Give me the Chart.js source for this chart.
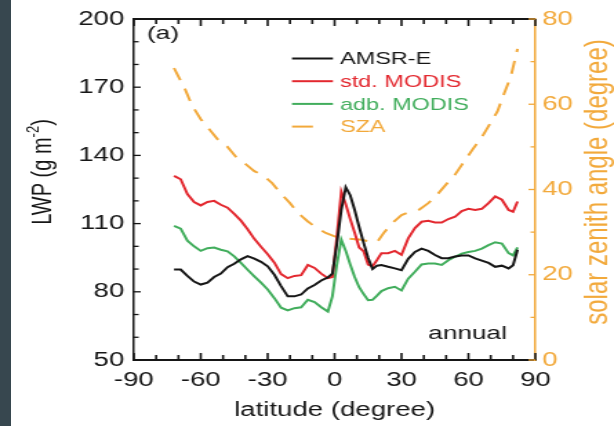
<!DOCTYPE html>
<html>
<head>
<meta charset="utf-8">
<script src="https://cdn.jsdelivr.net/npm/chart.js@4.4.1/dist/chart.umd.min.js"></script>
<style>
  html, body { margin: 0; padding: 0; background: #fff; overflow: hidden; }
  #wrap { position: relative; width: 614px; height: 426px; }
  #lwp { position: absolute; left: 0; top: 0; }
  #strip { position: absolute; left: 0; top: 0; width: 11px; height: 426px; background: #37474f; }
</style>
</head>
<body>
<div id="wrap">
  <!-- figure was scanned wider than tall, so the canvas is drawn narrow and stretched -->
  <canvas id="lwp" width="445" height="426" style="width:614px;height:426px"></canvas>
  <div id="strip"></div>
</div>
<script>
(function () {
    'use strict';

    // ── data ─────────────────────────────────────────────────────────────────
    var lat = [-72, -69, -66, -63, -60, -57, -54, -51, -48, -45, -42, -39, -36, -33, -30, -27, -24, -21, -18, -15, -12, -9, -6, -3,
               -1, 1, 3, 5, 7, 9, 11, 13, 15, 17, 19, 21,
               24, 27, 30, 33, 36, 39, 42, 45, 48, 51, 54, 57, 60, 63, 66, 69, 72, 75, 78, 80, 82];

    var amsrE = [89.8, 89.8, 87, 84.5, 83.2, 84, 86.5, 88, 90.8, 92.3, 94.3, 95.7, 94.6, 93.2, 91.2, 87.5, 82.5, 78, 78, 78.8, 81.5, 83, 85, 86.3,
                 88, 101, 116, 126, 122.5, 116, 108.5, 101.5, 95, 90, 91.5, 91.8,
                 91, 90.3, 89.5, 94.5, 97.5, 99, 98, 96.2, 94.8, 94.8, 95.5, 96, 96, 94.7, 93.7, 92.7, 91, 91.5, 90.3, 91.7, 98.5];

    var stdModis = [131, 129.5, 123, 119.5, 118, 119.5, 120, 118.3, 117, 114.3, 111.3, 107.5, 103.3, 99.8, 96.5, 92.8, 87.8, 86, 87, 87.3, 91.8, 90.5, 88, 86,
                    86.5, 104, 124, 118.5, 112, 106, 99.5, 97.8, 92, 91.2, 94, 97,
                    97, 98, 96.3, 103.5, 108, 110.8, 111.2, 110.5, 110.5, 112, 113, 115.5, 116.5, 116, 116.5, 119, 122, 120.5, 116, 115.2, 119.7];

    var adbModis = [109, 107.8, 102.5, 100, 98, 99.2, 99.5, 98.5, 97.8, 95.6, 92.7, 89.7, 86.8, 84, 81, 77.2, 73, 71.8, 72.8, 73.2, 76.5, 75.5, 73.2, 71.3,
                    78, 92, 102.9, 98, 92, 86.5, 82, 79, 76.3, 76.5, 78.3, 80.3,
                    81.6, 82.2, 80.6, 85.8, 88.8, 92, 92.4, 92.4, 91.8, 93.9, 95.4, 96.8, 97.5, 98, 99, 100.5, 101.8, 101.2, 97, 96, 99.5];

    var szaLat = [-72, -70, -67, -64, -60, -56, -52, -48, -44, -40, -36, -32, -28, -24, -20, -16, -12, -8, -4, 0, 4, 8, 12, 16,
                  19, 22, 26, 30, 34, 38, 42, 46, 50, 54, 58, 62, 66, 70, 73, 76, 79, 82];
    var sza = [68.5, 66.5, 63.5, 59.8, 56.5, 54, 51.5, 50, 47.5, 46, 44.3, 43.3, 41.5, 39, 36.8, 34.3, 32.5, 31, 29.8, 29, 28.6, 28.4, 28.2, 27.8,
               27.6, 29.8, 32.2, 34, 34.8, 35.3, 36.8, 38.8, 41.2, 43.5, 46.5, 49.5, 52.3, 55.7, 58.3, 62.5, 66.5, 73];

    var latTicks = [-90, -60, -30, 0, 30, 60, 90];
    var lwpTicks = [50, 80, 110, 140, 170, 200];
    var szaTicks = [0, 20, 40, 60, 80];

    var INK    = '#161616';
    var RED    = '#e3282f';
    var GREEN  = '#41ad5c';
    var ORANGE = '#f2a93b';
    var FONT   = '"Liberation Sans", Arial, Helvetica, sans-serif';

    function pts(xs, ys) {
        return xs.map(function (v, i) { return { x: v, y: ys[i] }; });
    }

    function seg(ctx, x1, y1, x2, y2) {
        ctx.beginPath();
        ctx.moveTo(x1, y1);
        ctx.lineTo(x2, y2);
        ctx.stroke();
    }

    // ── frame, inward ticks, in-plot legend and labels ──────────────────────
    var decor = {
        id: 'decor',
        afterDraw: function (chart) {
            var ctx = chart.ctx, a = chart.chartArea, s = chart.scales;
            var v, p, len;
            ctx.save();

            ctx.strokeStyle = INK;
            ctx.lineWidth = 2;
            seg(ctx, a.left, a.top, a.right, a.top);

            ctx.lineWidth = 1.6;
            for (v = s.x.min; v <= s.x.max; v += 10) {
                p = s.x.getPixelForValue(v);
                len = latTicks.indexOf(v) >= 0 ? 7 : 5;
                seg(ctx, p, a.bottom, p, a.bottom - len);
                seg(ctx, p, a.top, p, a.top + len);
            }
            ctx.lineWidth = 1.3;
            for (v = s.y.min; v <= s.y.max; v += 10) {
                p = s.y.getPixelForValue(v);
                len = lwpTicks.indexOf(v) >= 0 ? 5 : 3.5;
                seg(ctx, a.left, p, a.left + len, p);
            }
            ctx.strokeStyle = ORANGE;
            for (v = s.y1.min; v <= s.y1.max; v += 10) {
                p = s.y1.getPixelForValue(v);
                len = szaTicks.indexOf(v) >= 0 ? 5 : 3.5;
                seg(ctx, a.right, p, a.right - len, p);
            }

            // legend inside the plot
            ctx.font = '17px ' + FONT;
            ctx.textBaseline = 'middle';
            ctx.textAlign = 'left';
            chart.data.datasets.forEach(function (ds, i) {
                var ry = 58.5 + i * 22.7;
                ctx.strokeStyle = ds.borderColor;
                ctx.lineWidth = 2;
                if (ds.borderDash) {
                    seg(ctx, 211.6, ry, 226.8, ry);
                } else {
                    seg(ctx, 211.6, ry, 241.3, ry);
                }
                ctx.fillStyle = ds.borderColor;
                ctx.fillText(ds.label, 246.4, ry + 1);
            });

            ctx.fillStyle = INK;
            ctx.font = '19px ' + FONT;
            ctx.fillText('(a)', 106.5, 34);
            ctx.textAlign = 'right';
            ctx.fillText('annual', 367.4, 334);

            // left title, with a real superscript
            ctx.save();
            ctx.translate(31, 172);
            ctx.rotate(-Math.PI / 2);
            ctx.textAlign = 'left';
            ctx.font = '20px ' + FONT;
            var w1 = ctx.measureText('LWP (g m').width;
            var w3 = ctx.measureText(')').width;
            ctx.font = '13px ' + FONT;
            var w2 = ctx.measureText('-2').width;
            var x0 = -(w1 + w2 + w3) / 2;
            ctx.font = '20px ' + FONT;
            ctx.fillText('LWP (g m', x0, 0);
            ctx.fillText(')', x0 + w1 + w2, 0);
            ctx.font = '13px ' + FONT;
            ctx.fillText('-2', x0 + w1, -7);
            ctx.restore();

            // right-hand title reads bottom to top, like the left one
            ctx.translate(433.3, 182);
            ctx.rotate(-Math.PI / 2);
            ctx.textAlign = 'center';
            ctx.fillStyle = ORANGE;
            ctx.font = '24px ' + FONT;
            ctx.fillText('solar zenith angle (degree)', 0, 0);

            ctx.restore();
        }
    };

    new Chart(document.getElementById('lwp'), {
        type: 'line',
        data: {
            datasets: [
                { label: 'AMSR-E',      data: pts(lat, amsrE),    borderColor: INK,    yAxisID: 'y' },
                { label: 'std. MODIS',  data: pts(lat, stdModis), borderColor: RED,    yAxisID: 'y' },
                { label: 'adb. MODIS',  data: pts(lat, adbModis), borderColor: GREEN,  yAxisID: 'y' },
                { label: 'SZA',         data: pts(szaLat, sza),   borderColor: ORANGE, yAxisID: 'y1', borderDash: [13, 9] }
            ]
        },
        options: {
            responsive: false,
            animation: false,
            devicePixelRatio: 1,
            layout: { padding: { top: 12, left: 0, right: 0, bottom: 0 } },
            elements: {
                line: { borderWidth: 2, tension: 0, fill: false },
                point: { radius: 0 }
            },
            plugins: { legend: { display: false }, tooltip: { enabled: false } },
            scales: {
                x: {
                    type: 'linear',
                    min: -90, max: 90,
                    afterFit: function (sc) { sc.height = 66; },
                    grid: { display: false, drawTicks: false },
                    border: { color: INK, width: 2 },
                    ticks: {
                        stepSize: 30, autoSkip: false, maxRotation: 0, padding: 8,
                        color: INK, font: { size: 20, family: FONT }
                    },
                    title: {
                        display: true, text: 'latitude (degree)', color: INK,
                        font: { size: 20, family: FONT }, padding: { top: 0, bottom: 4 }
                    }
                },
                y: {
                    position: 'left',
                    min: 50, max: 200,
                    afterFit: function (sc) { sc.width = 97; },
                    grid: { display: false, drawTicks: false },
                    border: { color: INK, width: 1.5 },
                    ticks: {
                        stepSize: 30, autoSkip: false, padding: 7,
                        color: INK, font: { size: 20, family: FONT }
                    }
                },
                y1: {
                    position: 'right',
                    min: 0, max: 80,
                    afterFit: function (sc) { sc.width = 57; },
                    grid: { display: false, drawTicks: false },
                    border: { color: ORANGE, width: 1.5 },
                    ticks: {
                        stepSize: 20, autoSkip: false, padding: 5,
                        color: ORANGE, font: { size: 20, family: FONT }
                    }
                }
            }
        },
        plugins: [decor]
    });
})();
</script>
</body>
</html>
